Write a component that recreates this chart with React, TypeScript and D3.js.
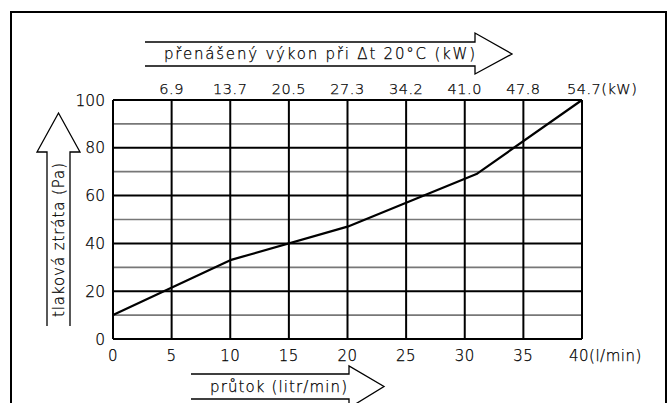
import * as d3 from "d3";

// flow in l/min vs pressure loss in Pa
const flowPts = [0, 10, 20, 31, 40];
const pressurePts = [10, 33, 47, 69, 100];

const flowTicks = [0, 5, 10, 15, 20, 25, 30, 35, 40];
const powerLabels = ["6.9", "13.7", "20.5", "27.3", "34.2", "41.0", "47.8", "54.7"];
const pressureTicks = [0, 20, 40, 60, 80, 100];
const pressureMinor = [10, 30, 50, 70, 90];

const font = "'DejaVu Sans', sans-serif";

// horizontal arrow outline: shaft from x0 to x1, head to tip
function hArrow(x0: number, x1: number, tip: number, yT: number, yB: number, hT: number, hB: number) {
  const yc = (yT + yB) / 2;
  return `M${x0},${yT}H${x1}V${hT}L${tip},${yc}L${x1},${hB}V${yB}H${x0}`;
}

function vArrow(y0: number, y1: number, tip: number, xL: number, xR: number, hL: number, hR: number) {
  const xc = (xL + xR) / 2;
  return `M${xL},${y0}V${y1}H${hL}L${xc},${tip}L${hR},${y1}H${xR}V${y0}`;
}

export default function App() {
  const x = d3.scaleLinear().domain([0, 40]).range([113, 582]);
  const y = d3.scaleLinear().domain([0, 100]).range([339, 100]);

  const line = d3
    .line<number>()
    .x((_, i) => x(flowPts[i]))
    .y((d) => y(d));

  return (
    <svg
      width={668}
      height={403}
      style={{ position: "absolute", left: 0, top: 0, background: "#fff" }}
      fontFamily={font}
      fontWeight={200}
    >
      {/* outer frame */}
      <path d="M11,410V12H666V410" fill="none" stroke="#000" strokeWidth={2} />

      {/* minor horizontal grid */}
      {pressureMinor.map((v) => (
        <line key={"m" + v} x1={x(0)} x2={x(40)} y1={y(v)} y2={y(v)} stroke="#777" strokeWidth={1.7} />
      ))}
      {pressureTicks.map((v) => (
        <line key={"p" + v} x1={x(0)} x2={x(40)} y1={y(v)} y2={y(v)} stroke="#000" strokeWidth={2} />
      ))}
      {flowTicks.map((v) => (
        <line key={"f" + v} x1={x(v)} x2={x(v)} y1={y(0)} y2={y(100)} stroke="#000" strokeWidth={2} />
      ))}

      <path d={line(pressurePts) ?? ""} fill="none" stroke="#000" strokeWidth={2.2} strokeLinejoin="round" />

      <g fill="#000" stroke="#000" strokeWidth={0.25}>
        {/* y labels */}
        {pressureTicks.map((v) => (
          <text key={"yl" + v} x={105} y={y(v)} dy="0.36em" textAnchor="end" fontSize={15.5}>
            {v}
          </text>
        ))}

        {/* bottom labels */}
        {flowTicks.map((v) => (
          <text
            key={"xl" + v}
            x={x(v)}
            y={361}
            textAnchor={v === 40 ? "start" : "middle"}
            dx={v === 40 ? -13 : 0}
            fontSize={15}
            letterSpacing={0.5}
          >
            {v === 40 ? "40(l/min)" : v}
          </text>
        ))}

        {/* top power labels */}
        {powerLabels.map((s, i) => (
          <text
            key={"tl" + s}
            x={x(flowTicks[i + 1])}
            y={94}
            textAnchor={i === powerLabels.length - 1 ? "start" : "middle"}
            dx={i === powerLabels.length - 1 ? -15 : 0}
            fontSize={14.5}
            letterSpacing={0.5}
          >
            {i === powerLabels.length - 1 ? s + "(kW)" : s}
          </text>
        ))}

        <text x={164} y={59} fontSize={15} textLength={311} lengthAdjust="spacing">
          přenášený  výkon  při  Δt  20°C  (kW)
        </text>
        <text transform="translate(64,317) rotate(-90)" fontSize={15} textLength={154} lengthAdjust="spacing">
          tlaková  ztráta  (Pa)
        </text>
        <text x={210} y={392} fontSize={15} textLength={137} lengthAdjust="spacing">
          průtok  (litr/min)
        </text>
      </g>

      {/* arrows around axis titles */}
      <path d={hArrow(145, 475, 512, 42, 66, 33, 74)} fill="none" stroke="#000" strokeWidth={1.3} />
      <path d={vArrow(326, 152, 113, 47, 70, 37, 80)} fill="none" stroke="#000" strokeWidth={1.3} />
      <path d={hArrow(191, 349, 384, 374, 399, 366, 408)} fill="none" stroke="#000" strokeWidth={1.3} />
    </svg>
  );
}
